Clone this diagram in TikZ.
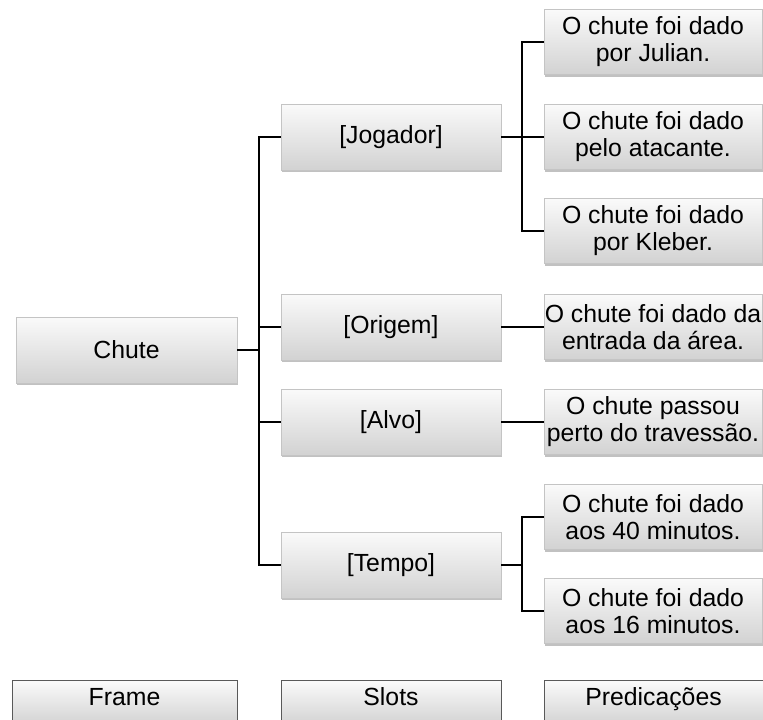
\documentclass[tikz,border=0pt]{standalone}
\usepackage{fontspec}
\setmainfont{Liberation Sans}
\usetikzlibrary{shadows}
\definecolor{boxtop}{HTML}{FAFAFA}
\definecolor{boxbot}{HTML}{D2D2D2}
\definecolor{boxline}{HTML}{C4C4C4}
\begin{document}
\begin{tikzpicture}[x=1pt,y=-1pt,
  box/.style={draw=boxline, line width=0.6pt, top color=boxtop, bottom color=boxbot,
    drop shadow={shadow xshift=1.2pt, shadow yshift=-2pt, opacity=0.35, fill=black!70},
    inner sep=0pt, align=center, font=\fontsize{24.8}{27}\selectfont},
  slotbox/.style={box, minimum width=220pt, minimum height=66pt},
  predbox/.style={box, minimum width=218pt, minimum height=65pt},
  legendbox/.style={draw=black!65, line width=0.8pt, top color=boxtop, bottom color=boxbot,
    anchor=north, inner sep=0pt, text height=25pt, text depth=20pt,
    font=\fontsize{24.8}{27}\selectfont},
  link/.style={line width=2pt, black}]
\useasboundingbox (0,0) rectangle (763,720);

% frame
\node[slotbox, minimum width=221pt] (chute) at (126.5,350) {Chute};

% slots
\node[slotbox] (jog)   at (391,137) {[Jogador]};
\node[slotbox] (ori)   at (391,327) {[Origem]};
\node[slotbox] (alvo)  at (391,422) {[Alvo]};
\node[slotbox] (tempo) at (391,565) {[Tempo]};

% predications
\node[predbox] (p1) at (653,42)  {O chute foi dado\\por Julian.};
\node[predbox] (p2) at (653,137) {O chute foi dado\\pelo atacante.};
\node[predbox] (p3) at (653,231) {O chute foi dado\\por Kleber.};
\node[predbox] (p4) at (653,327) {O chute foi dado da\\entrada da área.};
\node[predbox] (p5) at (653,422) {O chute passou\\perto do travessão.};
\node[predbox] (p6) at (653,517) {O chute foi dado\\aos 40 minutos.};
\node[predbox] (p7) at (653,611) {O chute foi dado\\aos 16 minutos.};

% legend row
\node[legendbox, minimum width=225pt] (frame) at (124.5,680) {Frame};
\node[legendbox, minimum width=220pt] (slots) at (391,680) {Slots};
\node[legendbox, minimum width=219pt] (pred)  at (653.5,680) {Predicações};

% connectors
\coordinate (t1) at ([xshift=22pt]chute.east);
\coordinate (t2) at ([xshift=21pt]jog.east);
\coordinate (t3) at ([xshift=21pt]tempo.east);

\draw[link] (chute.east) -- (t1);
\draw[link] (jog.west) -| (t1);
\draw[link] (ori.west) -| (t1);
\draw[link] (alvo.west) -| (t1);
\draw[link] (tempo.west) -| (t1);

\draw[link] (jog.east) -- (t2);
\draw[link] (p1.west) -| (t2);
\draw[link] (p2.west) -| (t2);
\draw[link] (p3.west) -| (t2);

\draw[link] (ori.east) -- (p4.west);
\draw[link] (alvo.east) -- (p5.west);

\draw[link] (tempo.east) -- (t3);
\draw[link] (p6.west) -| (t3);
\draw[link] (p7.west) -| (t3);
\end{tikzpicture}
\end{document}
